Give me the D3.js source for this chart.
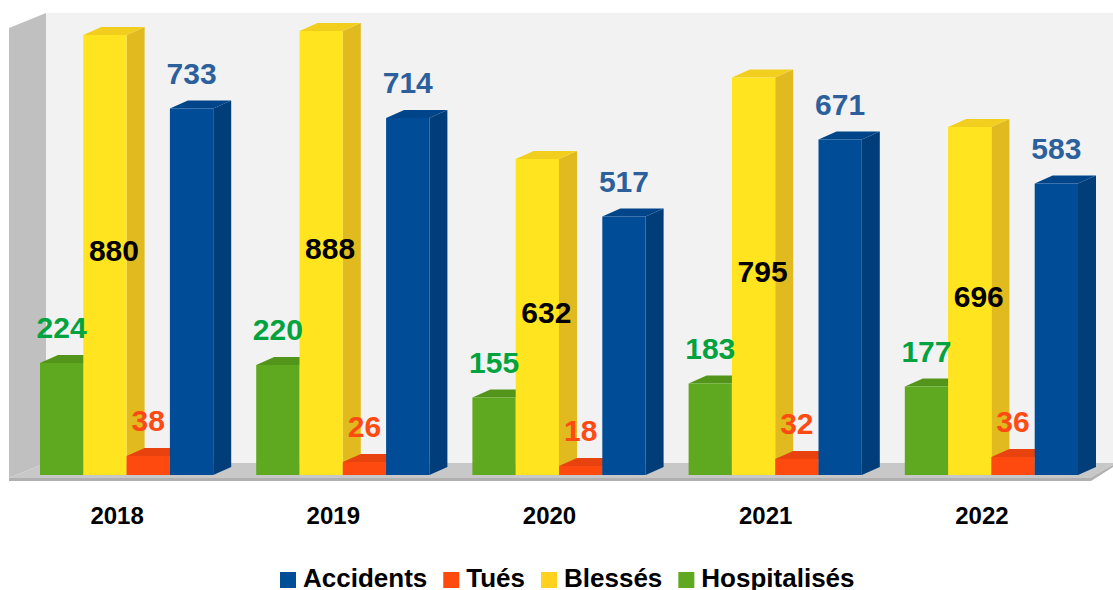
<!DOCTYPE html>
<html>
<head>
<meta charset="utf-8">
<script src="https://cdn.jsdelivr.net/npm/d3@7"></script>
<style>
  body { margin: 0; background: #fff; }
  text { font-family: "Liberation Sans", Arial, sans-serif; font-weight: bold; }
</style>
</head>
<body>
<div id="chart-area"></div>
<script>
const years = ["2018", "2019", "2020", "2021", "2022"]
// order of bars inside a group
const seriesNames = ["Hospitalisés", "Blessés", "Tués", "Accidents"]
const hospitalises = [224, 220, 155, 183, 177]
const blesses = [880, 888, 632, 795, 696]
const tues = [38, 26, 18, 32, 36]
const accidents = [733, 714, 517, 671, 583]
const legendOrder = ["Accidents", "Tués", "Blessés", "Hospitalisés"]

const WIDTH = 1113, HEIGHT = 590
const BASE = 475          // bar bottom
const DX = 18, DY = 8     // bar depth
const WALL_TOP = 13, WALL_LEFT = 46, FLOOR_BACK = 463, FLOOR_FRONT = 478

const style = {
  "Hospitalisés": { front: "#5fa920", side: "#4b8a18", top: "#53951b", label: "#00a33e", dx: 0 },
  "Blessés":      { front: "#ffe41f", side: "#e0ba1e", top: "#f2cf1e", label: "#000000", dx: DX / 2 },
  "Tués":         { front: "#ff4a0f", side: "#d93d0b", top: "#e8430e", label: "#ff4a12", dx: 0 },
  "Accidents":    { front: "#004c97", side: "#003d79", top: "#00458a", label: "#2c609d", dx: 0 }
}
const values = {
  "Hospitalisés": hospitalises, "Blessés": blesses, "Tués": tues, "Accidents": accidents
}

const svg = d3.select("#chart-area").append("svg")
  .attr("width", WIDTH)
  .attr("height", HEIGHT)

// walls and floor
svg.append("rect")
  .attr("x", WALL_LEFT).attr("y", WALL_TOP)
  .attr("width", WIDTH - WALL_LEFT).attr("height", FLOOR_BACK - WALL_TOP)
  .attr("fill", "#f2f2f2")
svg.append("polygon")
  .attr("points", `9,28 ${WALL_LEFT},${WALL_TOP} ${WALL_LEFT},${FLOOR_BACK} 9,${FLOOR_FRONT}`)
  .attr("fill", "#c0c0c0")
svg.append("polygon")
  .attr("points", `9,${FLOOR_FRONT} ${WALL_LEFT},${FLOOR_BACK} ${WIDTH},${FLOOR_BACK} ${WIDTH},${FLOOR_BACK + 2} 1090,${FLOOR_FRONT}`)
  .attr("fill", "#c8c8c8")
svg.append("polygon")
  .attr("points", `9,${FLOOR_FRONT} 1090,${FLOOR_FRONT} ${WIDTH},${FLOOR_BACK + 2} ${WIDTH},${FLOOR_BACK + 4} 1091,${FLOOR_FRONT + 3} 9,${FLOOR_FRONT + 3}`)
  .attr("fill", "#b0b0b0")

const x = d3.scaleBand()
  .domain(years)
  .range([9, 1090])
  .padding(0)

const x1 = d3.scaleBand()
  .domain(seriesNames)
  .range([31, 31 + 4 * 43.3])
  .padding(0)

const y = d3.scaleLinear()
  .domain([0, 900])
  .range([BASE, BASE - 450])

const bars = svg.append("g")
const labels = svg.append("g")

years.forEach((yr, i) => {
  seriesNames.forEach(s => {
    const v = values[s][i]
    const st = style[s]
    const x0 = x(yr) + x1(s)
    const xr = x0 + x1.bandwidth()
    const top = y(v)
    const g = bars.append("g")
    g.append("polygon")
      .attr("points", `${xr},${top} ${xr + DX},${top - DY} ${xr + DX},${BASE - DY} ${xr},${BASE}`)
      .attr("fill", st.side)
    g.append("polygon")
      .attr("points", `${x0},${top} ${x0 + DX},${top - DY} ${xr + DX},${top - DY} ${xr},${top}`)
      .attr("fill", st.top)
    g.append("rect")
      .attr("x", x0).attr("y", top)
      .attr("width", x1.bandwidth()).attr("height", BASE - top)
      .attr("fill", st.front)

    const cx = x0 + x1.bandwidth() / 2 + st.dx
    labels.append("text")
      .attr("x", cx)
      .attr("y", s === "Blessés" ? (top + BASE) / 2 + 6 : top - 25)
      .attr("text-anchor", "middle")
      .attr("font-size", "30px")
      .attr("fill", st.label)
      .text(v)
  })
})

// year labels
const xAxis = svg.append("g")
xAxis.selectAll("text")
  .data(years)
  .enter().append("text")
  .attr("x", d => x(d) + x.bandwidth() / 2)
  .attr("y", 524)
  .attr("text-anchor", "middle")
  .attr("font-size", "24px")
  .attr("fill", "#000")
  .text(d => d)

// legend
const legend = svg.append("g")
let lx = 280
legendOrder.forEach(s => {
  legend.append("rect")
    .attr("x", lx).attr("y", 572)
    .attr("width", 16).attr("height", 16)
    .attr("fill", s === "Blessés" ? "#ffd21f" : style[s].front)
  const t = legend.append("text")
    .attr("x", lx + 23).attr("y", 587)
    .attr("font-size", "26px")
    .attr("fill", "#000")
    .text(s)
  lx += 23 + t.node().getComputedTextLength() + 16
})
</script>
</body>
</html>
